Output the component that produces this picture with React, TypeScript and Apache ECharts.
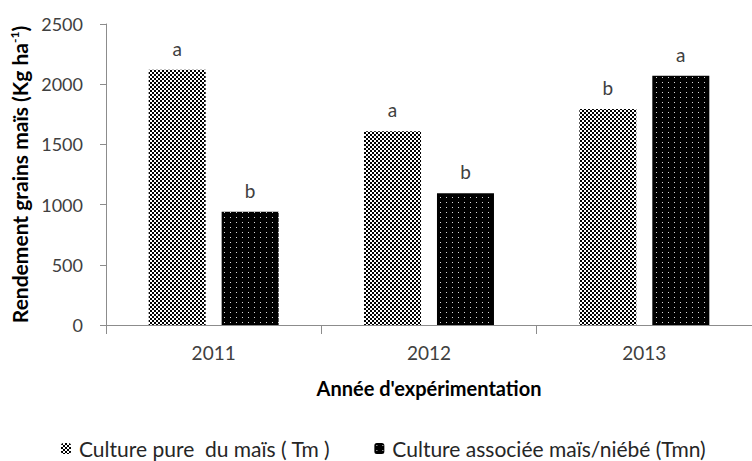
import React, { useEffect, useRef } from "react";
import * as echarts from "echarts";

const categories = ["2011", "2012", "2013"];
const pureValues = [2120, 1610, 1795];
const assocValues = [940, 1095, 2070];
const pureLetters = ["a", "a", "b"];
const assocLetters = ["b", "b", "a"];
const yTicks = { min: 0, max: 2500, interval: 500 };

function makeChecker(): HTMLCanvasElement {
  const c = document.createElement("canvas");
  c.width = 4;
  c.height = 4;
  const ctx = c.getContext("2d")!;
  ctx.fillStyle = "#ffffff";
  ctx.fillRect(0, 0, 4, 4);
  ctx.fillStyle = "#000000";
  ctx.fillRect(0, 0, 2, 2);
  ctx.fillRect(2, 2, 2, 2);
  return c;
}

function makeDots(): HTMLCanvasElement {
  const c = document.createElement("canvas");
  c.width = 6;
  c.height = 5;
  const ctx = c.getContext("2d")!;
  ctx.fillStyle = "#000000";
  ctx.fillRect(0, 0, 6, 5);
  ctx.fillStyle = "#d8d8d8";
  ctx.fillRect(2, 2, 1, 1);
  return c;
}

const FONT = "Lato, 'Open Sans', sans-serif";

export default function App() {
  const ref = useRef<HTMLDivElement>(null);
  useEffect(() => {
    if (!ref.current) return;
    const chart = echarts.init(ref.current, null, { renderer: "svg" });
    const checker = makeChecker();
    const dots = makeDots();
    const letterLabel = (letters: string[]) => ({
      show: true,
      position: "top",
      distance: 12,
      fontSize: 19,
      color: "#404040",
      fontFamily: FONT,
      formatter: (p: any) => letters[p.dataIndex],
    });
    chart.setOption({
      animation: false,
      backgroundColor: "#ffffff",
      textStyle: { fontFamily: FONT },
      grid: { left: 106, top: 24, width: 654, bottom: 136 },
      legend: {
        left: 61,
        top: 438,
        padding: 0,
        itemWidth: 10,
        itemHeight: 11,
        itemGap: 44,
        textStyle: { fontSize: 21, lineHeight: 21, color: "#262626", fontFamily: FONT, padding: [0, 0, 0, 3] },
        data: ["Culture pure  du maïs ( Tm )", "Culture associée maïs/niébé (Tmn)"],
      },
      xAxis: {
        type: "category",
        data: categories,
        name: "Année d'expérimentation",
        nameLocation: "middle",
        nameGap: 53,
        nameTextStyle: { fontSize: 20, fontWeight: "bold", color: "#000000", fontFamily: FONT },
        axisLine: { lineStyle: { color: "#8c8c8c", width: 1 } },
        axisTick: { show: true, length: 9, lineStyle: { color: "#8c8c8c" } },
        axisLabel: { fontSize: 19, color: "#404040", margin: 18, fontFamily: FONT },
      },
      yAxis: {
        type: "value",
        min: yTicks.min,
        max: yTicks.max,
        interval: yTicks.interval,
        name: "Rendement grains maïs (Kg ha{sup|-1})",
        nameLocation: "middle",
        nameGap: 76,
        nameTextStyle: {
          fontSize: 21,
          fontWeight: "bold",
          color: "#000000",
          fontFamily: FONT,
          rich: {
            sup: { fontSize: 12, fontWeight: "bold", color: "#000000", fontFamily: FONT, padding: [0, 0, 10, 0] },
          },
        },
        axisLine: { show: true, lineStyle: { color: "#8c8c8c", width: 1 } },
        axisTick: { show: true, length: 6, lineStyle: { color: "#8c8c8c" } },
        splitLine: { show: false },
        axisLabel: {
          fontSize: 18,
          color: "#404040",
          margin: 23,
          fontFamily: FONT,
          formatter: (v: number) => String(v),
        },
      },
      series: [
        {
          name: "Culture pure  du maïs ( Tm )",
          type: "bar",
          data: pureValues,
          barWidth: 57,
          barGap: "28%",
          itemStyle: { color: { image: checker, repeat: "repeat", imageWidth: 4, imageHeight: 4 } },
          label: letterLabel(pureLetters),
        },
        {
          name: "Culture associée maïs/niébé (Tmn)",
          type: "bar",
          data: assocValues,
          barWidth: 57,
          barGap: "28%",
          itemStyle: { color: { image: dots, repeat: "repeat", imageWidth: 6, imageHeight: 5 } },
          label: letterLabel(assocLetters),
        },
      ],
    });
    return () => chart.dispose();
  }, []);
  return <div ref={ref} style={{ width: 752, height: 461, position: "fixed", left: 0, top: 0 }} />;
}
